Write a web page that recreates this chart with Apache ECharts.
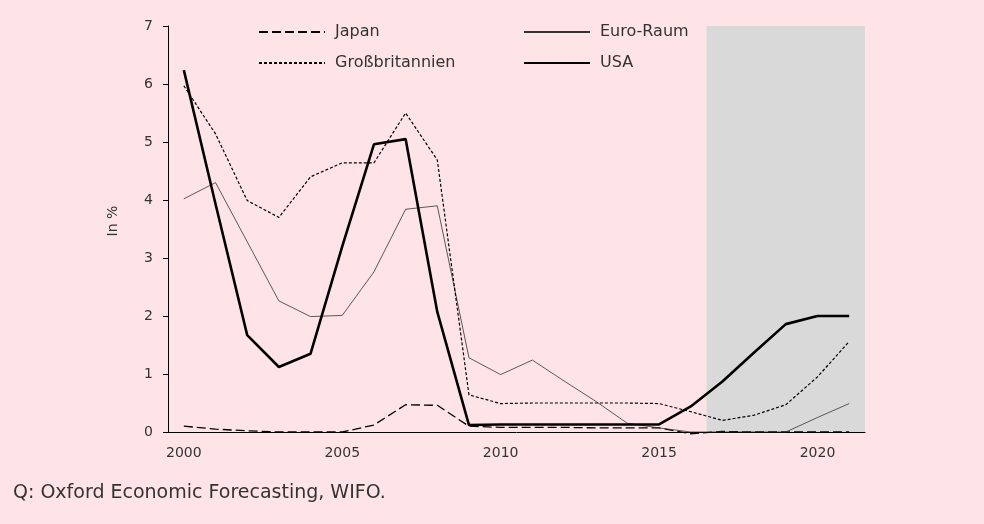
<!DOCTYPE html>
<html>
<head>
<meta charset="utf-8">
<script src="https://cdn.jsdelivr.net/npm/echarts@6/dist/echarts.min.js"></script>
<style>
  html, body { margin: 0; padding: 0; background: #fee4e6; }
  #chart { width: 984px; height: 524px; }
</style>
</head>
<body>
<div id="chart"></div>
<script>
// Leitzinsen, in %
const years = ['2000', '2001', '2002', '2003', '2004', '2005', '2006', '2007', '2008', '2009', '2010',
  '2011', '2012', '2013', '2014', '2015', '2016', '2017', '2018', '2019', '2020', '2021']
const japan = [0.1, 0.05, 0.02, 0.0, 0.0, 0.0, 0.12, 0.47, 0.46, 0.1, 0.08, 0.08, 0.08, 0.07, 0.07, 0.07, -0.03, 0.01, 0.0, 0.0, 0.0, 0.0]
const euro = [4.02, 4.3, 3.28, 2.26, 1.99, 2.01, 2.76, 3.84, 3.9, 1.28, 0.99, 1.24, 0.88, 0.53, 0.15, 0.07, 0.0, 0.0, 0.0, 0.0, 0.25, 0.49]
const gb = [5.97, 5.14, 3.99, 3.7, 4.4, 4.64, 4.64, 5.5, 4.69, 0.64, 0.49, 0.5, 0.5, 0.5, 0.5, 0.49, 0.35, 0.2, 0.29, 0.47, 0.95, 1.56]
const usa = [6.24, 3.93, 1.67, 1.12, 1.35, 3.2, 4.96, 5.05, 2.07, 0.12, 0.13, 0.13, 0.13, 0.13, 0.13, 0.13, 0.44, 0.87, 1.37, 1.86, 2.0, 2.0]
// Prognosezeitraum (grau hinterlegt)
const forecastFrom = 2016.5
const forecastTo = 2021.5

const font = 'DejaVu Sans'
const textColor = '#333'

const chart = echarts.init(document.getElementById('chart'))

const legendBase = {
  orient: 'vertical',
  top: 24,
  padding: 0,
  itemWidth: 66,
  itemHeight: 14,
  itemGap: 15,
  itemStyle: { opacity: 0 },
  textStyle: {
    color: textColor,
    fontFamily: font,
    fontSize: 16,
    padding: [0, 0, 0, 5]
  }
}

chart.setOption({
  backgroundColor: '#fee4e6',
  animation: false,
  grid: { left: 168, right: 119, top: 26, bottom: 92, containLabel: false },
  legend: [
    Object.assign({}, legendBase, { left: 258, data: ['Japan', 'Großbritannien'] }),
    Object.assign({}, legendBase, { left: 523, data: ['Euro-Raum', 'USA'] })
  ],
  xAxis: [
    {
      type: 'category',
      data: years,
      boundaryGap: true,
      axisLine: { lineStyle: { color: '#000', width: 1 } },
      axisTick: { interval: 0, length: 5, lineStyle: { color: '#000' } },
      axisLabel: { interval: 4, color: textColor, fontFamily: font, fontSize: 14, margin: 14 }
    },
    {
      type: 'value',
      min: 1999.5,
      max: 2021.5,
      show: false
    }
  ],
  yAxis: {
    type: 'value',
    min: 0,
    max: 7,
    interval: 1,
    name: 'In %',
    nameLocation: 'middle',
    nameGap: 48,
    nameTextStyle: { color: textColor, fontFamily: font, fontSize: 14, padding: [0, 0, 0, 16] },
    axisLine: { show: true, lineStyle: { color: '#000', width: 1 } },
    axisTick: { show: true, length: 5, lineStyle: { color: '#000' } },
    axisLabel: { color: textColor, fontFamily: font, fontSize: 14, margin: 15 },
    splitLine: { show: false }
  },
  series: [
    {
      // nur für die graue Fläche
      type: 'line',
      xAxisIndex: 1,
      data: [],
      z: 1,
      silent: true,
      markArea: {
        silent: true,
        itemStyle: { color: '#d9d9d9' },
        data: [[{ xAxis: forecastFrom }, { xAxis: forecastTo }]]
      }
    },
    {
      name: 'Japan',
      type: 'line',
      data: japan,
      symbol: 'none',
      clip: false,
      lineStyle: { color: '#000', width: 1.3, type: [9, 4] }
    },
    {
      name: 'Euro-Raum',
      type: 'line',
      data: euro,
      symbol: 'none',
      lineStyle: { color: '#333', width: 0.8 }
    },
    {
      name: 'Großbritannien',
      type: 'line',
      data: gb,
      symbol: 'none',
      lineStyle: { color: '#000', width: 1.2, type: [3, 2] }
    },
    {
      name: 'USA',
      type: 'line',
      data: usa,
      symbol: 'none',
      lineStyle: { color: '#000', width: 2.6 }
    }
  ],
  graphic: [
    {
      type: 'text',
      left: 13,
      top: 484,
      style: {
        text: 'Q: Oxford Economic Forecasting, WIFO.',
        fill: textColor,
        font: '19px "DejaVu Sans"'
      }
    }
  ]
})
</script>
</body>
</html>
